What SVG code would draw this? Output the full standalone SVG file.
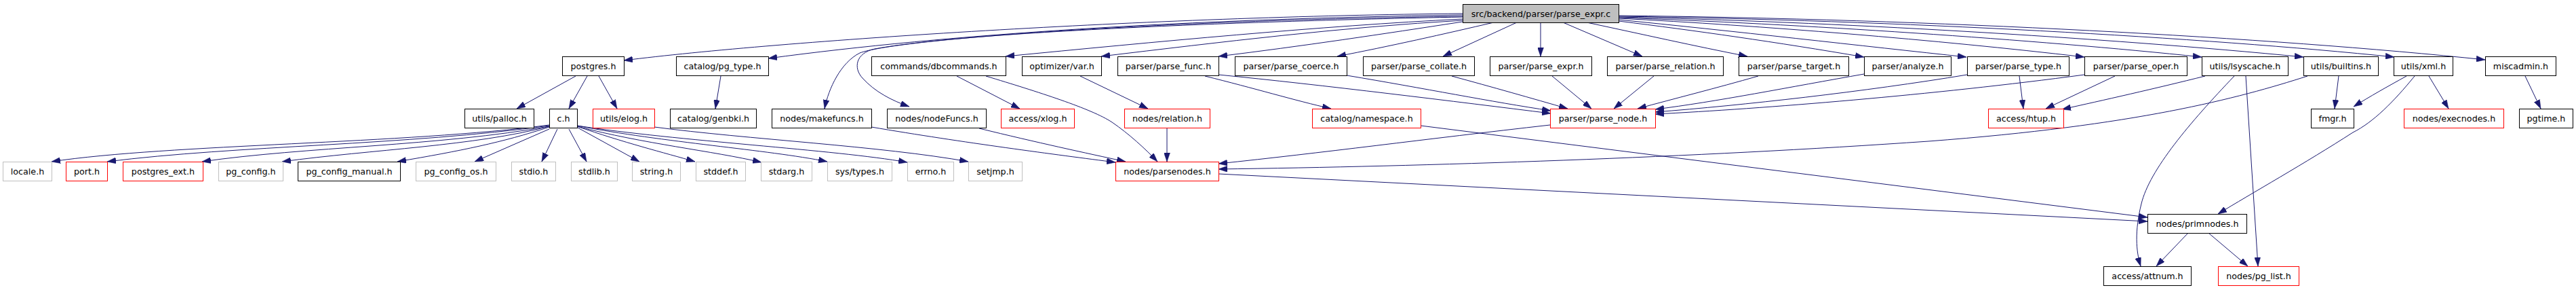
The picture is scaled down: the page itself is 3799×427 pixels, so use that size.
<svg xmlns="http://www.w3.org/2000/svg" width="3799" height="427" viewBox="0 0 3799 427">
<style>
rect{fill:#fff;stroke:#000;stroke-width:1}
.g rect{stroke:#bfbfbf}
.r rect{stroke:#ff0000}
.root rect{fill:#bfbfbf;stroke:#000}
text{font-family:"DejaVu Sans","Liberation Sans",sans-serif;font-size:12.7px;text-anchor:middle;fill:#000}
#edges path{fill:none;stroke:#191970;stroke-width:1;marker-end:url(#a)}
</style>
<defs>
<marker id="a" viewBox="0 0 13 9" refX="13" refY="4.5" markerWidth="13" markerHeight="9" markerUnits="userSpaceOnUse" orient="auto">
<path d="M0,0 L13,4.5 L0,9 Z" fill="#191970" stroke="#191970" stroke-width="0.5"/>
</marker>
</defs>
<rect x="0" y="0" width="3799" height="427" style="fill:#fff;stroke:none"/>
<g id="edges">
<!-- root left -->
<path d="M2157,20 C1700,24 1150,60 920,89"/>
<path d="M2157,22 C1750,28 1400,50 1133,86"/>
<path d="M2157,24 C1700,30 1320,58 1268,78 C1240,92 1222,130 1216,160"/>
<path d="M2157,25 C1800,32 1420,48 1290,72 C1262,78 1258,100 1272,115 C1290,135 1315,148 1341,157"/>
<path d="M2157,28 C1950,38 1700,62 1483,83"/>
<path d="M2157,30 C1980,40 1800,62 1624,83"/>
<path d="M2157,32 C2040,50 1920,68 1797,83"/>
<path d="M2203,33 C2130,50 2050,68 1972,83"/>
<path d="M2237,33 L2128,83"/>
<path d="M2272,33 L2272,83"/>
<path d="M2305,33 L2422,83"/>
<path d="M2340,33 C2420,50 2500,68 2577,83"/>
<path d="M2387,31 C2500,45 2620,62 2749,84"/>
<path d="M2387,29 C2550,45 2750,68 2900,84"/>
<path d="M2387,27 C2600,38 2850,58 3074,84"/>
<path d="M2387,26 C2650,35 3000,58 3247,84"/>
<path d="M2387,25 C2700,32 3100,55 3397,84"/>
<path d="M2387,24 C2800,30 3250,55 3531,84"/>
<path d="M2387,23 C2850,28 3350,55 3665,88"/>
<!-- postgres.h -->
<path d="M849,112 L762,160"/>
<path d="M866,112 L839,160"/>
<path d="M883,112 L910,160"/>
<!-- c.h left -->
<path d="M810,184 C600,212 250,212 76,238"/>
<path d="M810,185 C600,214 350,214 158,238"/>
<path d="M810,186 C650,215 450,216 298,238"/>
<path d="M810,186 C700,215 550,220 416,238"/>
<path d="M810,187 C740,210 680,222 586,238"/>
<path d="M810,190 L700,238"/>
<path d="M822,190 L799,238"/>
<path d="M839,190 L865,238"/>
<!-- c.h right -->
<path d="M852,188 L943,238"/>
<path d="M851,186 C920,210 980,225 1025,238"/>
<path d="M851,186 C950,212 1050,222 1123,239"/>
<path d="M851,185 C980,210 1130,220 1220,238"/>
<path d="M851,185 C1000,208 1230,220 1338,239"/>
<path d="M965,187 C1100,205 1300,215 1428,238"/>
<!-- misc -->
<path d="M1063,112 L1055,160"/>
<path d="M1593,112 L1693,160"/>
<path d="M1411,112 L1504,160"/>
<path d="M1454,112 C1530,135 1610,160 1640,180 C1665,197 1690,220 1707,238"/>
<path d="M1285,187 C1420,210 1560,228 1645,239"/>
<path d="M1444,189 C1530,210 1600,225 1660,238"/>
<path d="M1721,189 L1721,238"/>
<path d="M1777,112 C1850,130 1910,148 1963,160"/>
<path d="M1797,110 C1950,125 2150,150 2287,167"/>
<path d="M1986,111 C2100,130 2200,150 2287,163"/>
<path d="M2141,112 C2200,128 2260,145 2312,160"/>
<path d="M2289,112 L2347,160"/>
<path d="M2439,112 L2380,160"/>
<path d="M2593,112 C2530,130 2470,145 2415,160"/>
<path d="M2749,109 C2640,128 2530,150 2441,161"/>
<path d="M2901,110 C2750,135 2570,155 2441,165"/>
<path d="M3074,110 C2850,140 2600,160 2441,168"/>
<path d="M2978,112 L2984,160"/>
<path d="M3119,112 L3017,160"/>
<path d="M3252,112 C3180,130 3100,148 3041,161"/>
<path d="M2286,184 C2100,205 1950,225 1797,241"/>
<path d="M3403,112 C3300,145 3150,185 2844,208 C2500,232 2100,245 1797,249"/>
<path d="M1797,256 L3167,326"/>
<path d="M2095,185 L3167,320"/>
<path d="M3295,112 C3230,180 3170,250 3158,300 C3148,340 3150,370 3157,392"/>
<path d="M3312,112 L3330,392"/>
<path d="M3449,112 L3443,160"/>
<path d="M3549,112 C3520,128 3495,142 3471,157"/>
<path d="M3561,112 C3530,150 3500,180 3470,195 C3400,240 3320,285 3271,315"/>
<path d="M3582,112 L3611,160"/>
<path d="M3724,112 L3747,160"/>
<path d="M3227,343 L3180,392"/>
<path d="M3257,343 L3315,392"/>
</g>
<g id="n-root" class="root"><rect x="2157.5" y="6.5" width="230" height="27"/><text x="2272.5" y="24.5">src/backend/parser/parse_expr.c</text></g>
<g id="n-postgres"><rect x="829.5" y="83.5" width="91" height="28"/><text x="875" y="102">postgres.h</text></g>
<g id="n-pg_type"><rect x="997.5" y="83.5" width="136" height="28"/><text x="1065.5" y="102">catalog/pg_type.h</text></g>
<g id="n-dbcommands"><rect x="1285.5" y="83.5" width="198" height="28"/><text x="1384.5" y="102">commands/dbcommands.h</text></g>
<g id="n-var"><rect x="1507.5" y="83.5" width="117" height="28"/><text x="1566" y="102">optimizer/var.h</text></g>
<g id="n-parse_func"><rect x="1648.5" y="83.5" width="149" height="28"/><text x="1723" y="102">parser/parse_func.h</text></g>
<g id="n-parse_coerce"><rect x="1821.5" y="83.5" width="165" height="28"/><text x="1904" y="102">parser/parse_coerce.h</text></g>
<g id="n-parse_collate"><rect x="2010.5" y="83.5" width="164" height="28"/><text x="2092.5" y="102">parser/parse_collate.h</text></g>
<g id="n-parse_expr"><rect x="2197.5" y="83.5" width="150" height="28"/><text x="2272.5" y="102">parser/parse_expr.h</text></g>
<g id="n-parse_relation"><rect x="2370.5" y="83.5" width="171" height="28"/><text x="2456" y="102">parser/parse_relation.h</text></g>
<g id="n-parse_target"><rect x="2564.5" y="83.5" width="162" height="28"/><text x="2645.5" y="102">parser/parse_target.h</text></g>
<g id="n-analyze"><rect x="2749.5" y="83.5" width="128" height="28"/><text x="2813.5" y="102">parser/analyze.h</text></g>
<g id="n-parse_type"><rect x="2901.5" y="83.5" width="150" height="28"/><text x="2976.5" y="102">parser/parse_type.h</text></g>
<g id="n-parse_oper"><rect x="3074.5" y="83.5" width="151" height="28"/><text x="3150" y="102">parser/parse_oper.h</text></g>
<g id="n-lsyscache"><rect x="3247.5" y="83.5" width="127" height="28"/><text x="3311" y="102">utils/lsyscache.h</text></g>
<g id="n-builtins"><rect x="3397.5" y="83.5" width="110" height="28"/><text x="3452.5" y="102">utils/builtins.h</text></g>
<g id="n-xml"><rect x="3530.5" y="83.5" width="87" height="28"/><text x="3574" y="102">utils/xml.h</text></g>
<g id="n-miscadmin"><rect x="3665.5" y="83.5" width="104" height="28"/><text x="3717.5" y="102">miscadmin.h</text></g>
<g id="n-palloc"><rect x="685.5" y="160.5" width="102" height="28"/><text x="736.5" y="179">utils/palloc.h</text></g>
<g id="n-c"><rect x="810.5" y="160.5" width="41" height="28"/><text x="831" y="179">c.h</text></g>
<g id="n-elog" class="r"><rect x="874.5" y="160.5" width="91" height="28"/><text x="920" y="179">utils/elog.h</text></g>
<g id="n-genbki"><rect x="988.5" y="160.5" width="127" height="28"/><text x="1052" y="179">catalog/genbki.h</text></g>
<g id="n-makefuncs"><rect x="1138.5" y="160.5" width="147" height="28"/><text x="1212" y="179">nodes/makefuncs.h</text></g>
<g id="n-nodeFuncs"><rect x="1308.5" y="160.5" width="146" height="28"/><text x="1381.5" y="179">nodes/nodeFuncs.h</text></g>
<g id="n-xlog" class="r"><rect x="1476.5" y="160.5" width="108" height="28"/><text x="1530.5" y="179">access/xlog.h</text></g>
<g id="n-relation" class="r"><rect x="1658.5" y="160.5" width="126" height="28"/><text x="1721.5" y="179">nodes/relation.h</text></g>
<g id="n-namespace" class="r"><rect x="1935.5" y="160.5" width="160" height="28"/><text x="2015.5" y="179">catalog/namespace.h</text></g>
<g id="n-parse_node" class="r"><rect x="2286.5" y="160.5" width="155" height="28"/><text x="2364" y="179">parser/parse_node.h</text></g>
<g id="n-htup" class="r"><rect x="2932.5" y="160.5" width="111" height="28"/><text x="2988" y="179">access/htup.h</text></g>
<g id="n-fmgr"><rect x="3408.5" y="160.5" width="63" height="28"/><text x="3440" y="179">fmgr.h</text></g>
<g id="n-execnodes" class="r"><rect x="3545.5" y="160.5" width="147" height="28"/><text x="3619" y="179">nodes/execnodes.h</text></g>
<g id="n-pgtime"><rect x="3715.5" y="160.5" width="79" height="28"/><text x="3755" y="179">pgtime.h</text></g>
<g id="n-locale" class="g"><rect x="4.5" y="238.5" width="72" height="28"/><text x="40.5" y="257">locale.h</text></g>
<g id="n-port" class="r"><rect x="97.5" y="238.5" width="61" height="28"/><text x="128" y="257">port.h</text></g>
<g id="n-postgres_ext" class="r"><rect x="181.5" y="238.5" width="118" height="28"/><text x="240.5" y="257">postgres_ext.h</text></g>
<g id="n-pg_config" class="g"><rect x="322.5" y="238.5" width="95" height="28"/><text x="370" y="257">pg_config.h</text></g>
<g id="n-pg_config_manual"><rect x="439.5" y="238.5" width="151" height="28"/><text x="515" y="257">pg_config_manual.h</text></g>
<g id="n-pg_config_os" class="g"><rect x="613.5" y="238.5" width="118" height="28"/><text x="672.5" y="257">pg_config_os.h</text></g>
<g id="n-stdio" class="g"><rect x="754.5" y="238.5" width="65" height="28"/><text x="787" y="257">stdio.h</text></g>
<g id="n-stdlib" class="g"><rect x="842.5" y="238.5" width="68" height="28"/><text x="876.5" y="257">stdlib.h</text></g>
<g id="n-string" class="g"><rect x="932.5" y="238.5" width="71" height="28"/><text x="968" y="257">string.h</text></g>
<g id="n-stddef" class="g"><rect x="1026.5" y="238.5" width="73" height="28"/><text x="1063" y="257">stddef.h</text></g>
<g id="n-stdarg" class="g"><rect x="1122.5" y="238.5" width="75" height="28"/><text x="1160" y="257">stdarg.h</text></g>
<g id="n-systypes" class="g"><rect x="1220.5" y="238.5" width="95" height="28"/><text x="1268" y="257">sys/types.h</text></g>
<g id="n-errno" class="g"><rect x="1338.5" y="238.5" width="68" height="28"/><text x="1372.5" y="257">errno.h</text></g>
<g id="n-setjmp" class="g"><rect x="1428.5" y="238.5" width="79" height="28"/><text x="1468" y="257">setjmp.h</text></g>
<g id="n-parsenodes" class="r"><rect x="1645.5" y="238.5" width="152" height="28"/><text x="1721.5" y="257">nodes/parsenodes.h</text></g>
<g id="n-primnodes"><rect x="3167.5" y="315.5" width="146" height="28"/><text x="3240.5" y="334">nodes/primnodes.h</text></g>
<g id="n-attnum"><rect x="3102.5" y="392.5" width="129" height="28"/><text x="3167" y="411">access/attnum.h</text></g>
<g id="n-pg_list" class="r"><rect x="3271.5" y="392.5" width="119" height="28"/><text x="3331" y="411">nodes/pg_list.h</text></g>
</svg>
